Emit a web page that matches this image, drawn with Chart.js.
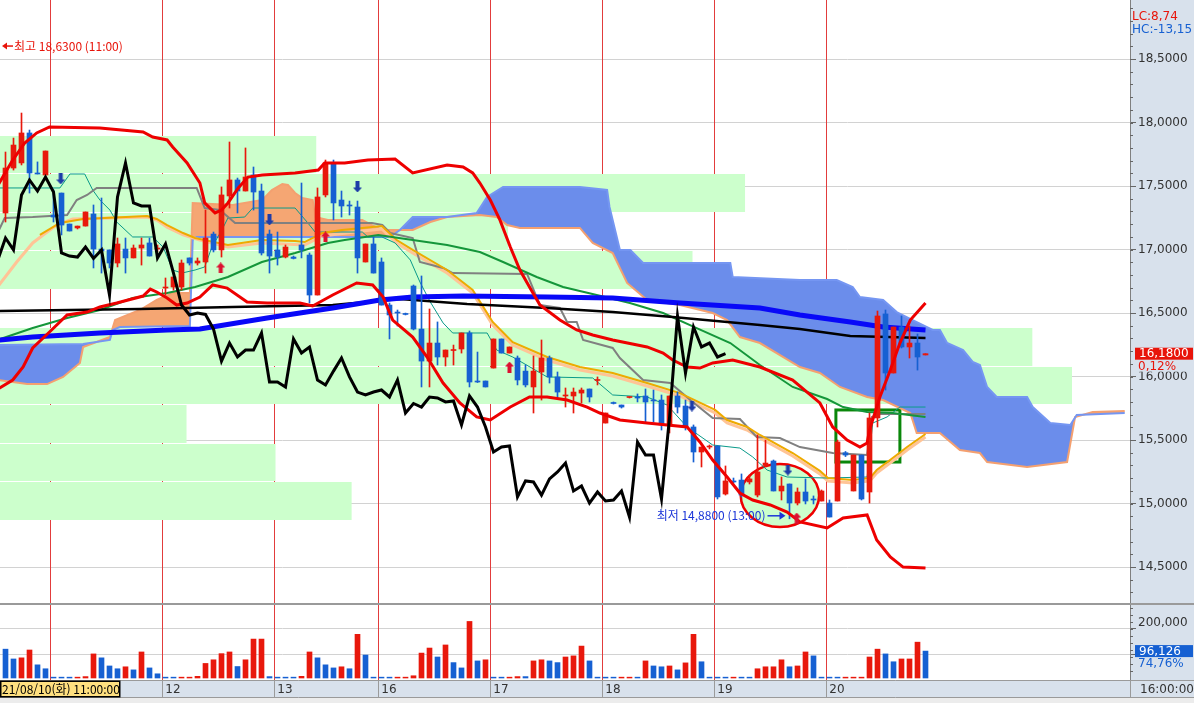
<!DOCTYPE html>
<html lang="ko">
<head>
<meta charset="UTF-8">
<title>Chart</title>
<script src="https://cdn.jsdelivr.net/npm/chart.js"></script>
<style>
  html, body { margin: 0; padding: 0; background: #ececec; }
  #wrap { width: 1194px; height: 703px; }
  canvas { display: block; }
</style>
</head>
<body>
<div id="wrap"><canvas id="myChart" width="1194" height="698"></canvas></div>
<script>
// 일자 구분선 (봉 인덱스 기준) 과 라벨
const dayStarts = [5.5, 19.5, 33.5, 46.5, 60.5, 74.5, 88.5, 102.5];
const dayLabels = ['', '12', '13', '16', '17', '18', '19', '20'];

// 봉 데이터 (시가/고가/저가/종가)
const opens = [17.288,17.642,17.682,17.918,17.603,17.587,17.272,17.445,17.201,17.170,17.185,17.280,17.004,16.997,16.894,17.004,16.934,17.012,17.052,17.004,
  16.697,16.705,16.705,16.934,16.894,16.902,17.122,16.997,17.422,17.548,17.461,17.587,17.461,17.122,16.997,16.941,16.941,17.036,16.957,16.642,
  17.430,17.682,17.390,17.351,17.335,16.902,17.044,16.902,16.563,16.508,16.493,16.713,16.374,16.122,16.264,16.154,16.205,16.217,16.343,15.965,
  15.965,16.067,16.296,16.185,16.146,16.043,15.918,16.036,16.146,15.997,15.847,15.847,15.870,15.902,15.969,15.634,15.792,15.776,15.835,15.839,
  15.847,15.815,15.815,15.619,15.847,15.768,15.603,15.406,15.445,15.453,15.075,15.178,15.185,15.170,15.067,15.300,15.335,15.099,15.154,15.004,
  15.091,15.036,15.020,15.004,15.020,15.400,15.099,15.382,15.091,15.674,16.493,16.028,16.390,16.233,16.264,16.170];
const highs = [17.768,17.878,18.075,17.941,17.690,17.776,17.469,17.445,17.201,17.185,17.296,17.351,17.406,16.997,17.091,17.091,17.036,17.091,17.091,17.036,
  16.776,16.784,16.918,16.934,16.934,17.311,17.138,17.493,17.847,17.563,17.800,17.650,17.516,17.154,17.138,17.036,16.949,17.524,16.973,17.485,
  17.705,17.705,17.461,17.382,17.382,17.044,17.099,16.934,16.579,16.524,16.500,16.721,16.792,16.532,16.430,16.209,16.248,16.343,16.359,16.193,
  15.965,16.296,16.296,16.233,16.162,16.091,16.162,16.288,16.162,16.036,15.910,15.910,15.910,15.902,15.997,15.713,15.800,15.776,15.839,15.863,
  15.902,15.894,15.855,15.847,15.878,15.815,15.619,15.445,15.461,15.453,15.296,15.201,15.233,15.225,15.540,15.500,15.343,15.209,15.154,15.123,
  15.194,15.060,15.107,15.028,15.500,15.410,15.382,15.382,15.713,16.516,16.524,16.390,16.477,16.398,16.335,16.180];
const lows = [17.217,17.626,17.666,17.445,17.595,17.587,17.217,17.115,17.146,17.162,17.185,16.855,16.815,16.855,16.863,16.815,16.934,16.878,16.949,16.981,
  16.642,16.681,16.681,16.878,16.878,16.815,16.981,16.941,17.327,17.288,17.461,17.311,16.957,16.815,16.878,16.934,16.926,16.934,16.579,16.642,
  17.414,17.233,17.256,17.272,16.815,16.902,16.815,16.563,16.296,16.398,16.485,16.367,15.918,15.918,16.091,16.083,16.091,16.185,15.918,15.953,
  15.918,16.067,16.185,16.185,15.934,15.918,15.713,15.815,15.949,15.831,15.760,15.713,15.792,15.800,15.934,15.634,15.784,15.752,15.831,15.800,
  15.634,15.642,15.579,15.556,15.713,15.579,15.327,15.288,15.430,15.036,15.067,15.162,15.052,15.154,15.052,15.290,15.099,15.028,14.880,14.989,
  14.997,14.997,15.020,14.894,15.020,15.370,15.099,15.028,15.004,15.603,15.894,16.028,16.225,16.146,16.051,16.170];
const closes = [17.642,17.823,17.918,17.603,17.595,17.776,17.256,17.193,17.146,17.185,17.296,17.004,16.989,16.894,17.044,16.934,17.012,17.036,16.949,17.012,
  16.705,16.784,16.894,16.894,16.910,17.091,16.997,17.430,17.548,17.461,17.571,17.453,16.973,16.949,16.941,17.020,16.930,16.997,16.642,17.414,
  17.682,17.367,17.343,17.343,16.934,17.044,16.815,16.563,16.485,16.500,16.489,16.374,16.122,16.264,16.154,16.209,16.209,16.343,15.957,15.957,
  15.918,16.296,16.185,16.233,15.973,15.934,16.043,16.146,15.997,15.878,15.855,15.878,15.894,15.839,15.973,15.713,15.788,15.760,15.839,15.831,
  15.800,15.808,15.619,15.847,15.760,15.603,15.406,15.445,15.453,15.052,15.178,15.170,15.067,15.194,15.249,15.319,15.099,15.138,15.004,15.091,
  15.020,15.028,15.099,14.894,15.485,15.382,15.382,15.036,15.674,16.477,16.028,16.390,16.233,16.264,16.154,16.180];

// 거래량과 막대 색 (r 상승, b 하락)
const volumes = [103000,68000,72000,100000,47000,33000,
  3000,3000,3000,3000,5000,86000,72000,43000,33000,40000,29000,93000,36000,15000,
  3000,3000,3000,3000,6000,52000,65000,87000,93000,41000,65000,139000,139000,5000,
  3000,3000,3000,6000,93000,72000,47000,36000,40000,33000,156000,82000,3000,
  3000,3000,3000,3000,8000,89000,107000,75000,118000,55000,36000,202000,61000,65000,
  3000,3000,3000,5000,5000,61000,65000,61000,55000,75000,79000,114000,61000,3000,
  3000,3000,3000,3000,3000,61000,43000,40000,43000,29000,54000,156000,58000,3000,
  3000,3000,3000,3000,3000,33000,40000,40000,65000,40000,43000,93000,79000,3000,
  3000,3000,3000,3000,3000,75000,103000,86000,58000,68000,68000,128000,96126];
const volDir = 'bbrrbb' + 'bbbrrrbbbrbrbb' + 'bbrrrrrrrbrrrb' + 'bbbrrbbbrbrbb' + 'bbrrrrrbrbbrbr' +
  'bbrrbrrbbrrrbb' + 'bbrrbrbbrbrrbb' + 'bbrbbrrrrbrrbb' + 'bbrrrrrbbrrrb';
const volLabelValue = 200000;

// 볼린저 밴드, 이동평균선 [봉 인덱스, 가격]
const bbUpper = [[-1,17.50],[0.9,17.705],[2.4,17.839],[3.9,17.918],[5.5,17.965],[11.8,17.957],[17.2,17.926],[18.4,17.886],[20.2,17.863],[20.9,17.808],
  [22.7,17.682],[24.3,17.524],[24.9,17.367],[26.2,17.288],[27,17.311],[27.8,17.367],[29.1,17.485],[30.3,17.571],[32.1,17.587],[36.2,17.603],
  [39.1,17.626],[39.9,17.682],[42.4,17.682],[45.3,17.705],[48.7,17.713],[50.9,17.603],[55.2,17.666],[57.2,17.65],[58.4,17.603],[59.3,17.524],
  [60.6,17.39],[61.8,17.233],[63.1,17.02],[64.3,16.839],[65.5,16.705],[66.8,16.563],[69.3,16.445],[71.4,16.367],[73.4,16.327],[75.9,16.288],
  [80.2,16.233],[82.2,16.185],[83.4,16.13],[85.2,16.075],[86.8,16.067],[88.4,16.107],[90.9,16.13],[94.3,16.075],[98.4,15.973],[101.8,15.792],
  [103.4,15.603],[105.2,15.5],[106.8,15.445],[107.7,15.477],[108,15.579],[109.3,15.839],[110.6,16.052],[111.8,16.264],[113.1,16.445],[115,16.579]];
const bbLower = [[-1,15.90],[0.9,15.973],[2.2,16.075],[3.4,16.225],[5.5,16.351],[7.7,16.485],[10.2,16.508],[11.8,16.548],[13.9,16.579],[17.2,16.634],
  [18.1,16.689],[18.9,16.666],[20.2,16.619],[21.4,16.563],[22.7,16.579],[24.3,16.626],[25.9,16.721],[27.7,16.697],[30.2,16.587],[32.7,16.579],
  [36.8,16.579],[38.4,16.556],[40.9,16.642],[43.9,16.737],[45.9,16.721],[47.2,16.626],[48.4,16.445],[50.9,16.311],[52.7,16.154],[54.7,15.949],
  [56.8,15.792],[58.9,15.682],[60.6,15.658],[63.1,15.76],[65.5,15.839],[67.7,15.839],[70.2,15.815],[72.7,15.76],[74.3,15.713],[76.8,15.658],
  [80.2,15.634],[85.2,15.603],[86.8,15.485],[88.4,15.343],[90.2,15.209],[91.8,15.083],[93.4,15.028],[95.6,14.989],[97.7,14.933],[99.3,14.855],
  [102.7,14.808],[104.7,14.886],[107.7,14.91],[108.9,14.713],[110.6,14.579],[112.2,14.5],[115,14.492]];
const maBlack = [[-1,16.516],[16.8,16.532],[28.4,16.548],[40.9,16.563],[49.3,16.61],[57.7,16.571],[67.7,16.54],[75.9,16.508],[83.4,16.469],
  [94.3,16.406],[99.3,16.374],[105.6,16.319],[115,16.304]];
const maBlue = [[-1,16.287],[3.4,16.311],[11.8,16.343],[20.2,16.367],[24.3,16.374],[32.7,16.461],[40.9,16.54],[46.8,16.603],[50.9,16.626],
  [57.2,16.634],[67.7,16.626],[75.9,16.619],[84.3,16.579],[94.3,16.54],[99.3,16.485],[105.6,16.43],[109.7,16.39],[115,16.367]];
const maGreen = [[-1,16.288],[3.4,16.382],[7.7,16.461],[11.8,16.524],[15.9,16.619],[20.2,16.658],[23.7,16.705],[27.8,16.784],[32.05,16.902],
  [36.2,16.973],[40.3,17.052],[42.4,17.075],[46.6,17.115],[50.9,17.075],[55.2,17.036],[59.3,16.981],[62.2,16.902],[66.4,16.784],[69.7,16.705],
  [73.9,16.642],[78.05,16.579],[82.2,16.5],[86.4,16.382],[90.6,16.264],[94.3,16.091],[98.4,15.918],[102.7,15.823],[104.7,15.76],[107.7,15.721],
  [110.9,15.713],[115,15.682]];
const maOrange = [[4.3,17.115],[6.8,17.209],[9.7,17.241],[17.7,17.264],[18.9,17.241],[20.2,17.193],[22.2,17.13],[23.7,17.091],[27.8,17.036],
  [32.05,17.075],[36.2,17.067],[37.4,17.059],[39.6,17.13],[42.05,17.154],[44.6,17.17],[47.05,17.185],[48.9,17.075],[50.9,16.997],[55.2,16.839],
  [58.4,16.682],[60.9,16.43],[63.4,16.27],[67.7,16.154],[71.8,16.075],[75.9,16.028],[80.2,15.949],[84.3,15.87],[88.7,15.737],[90.2,15.658],
  [92.7,15.603],[94.3,15.54],[98.4,15.398],[101.8,15.257],[102.8,15.201],[105.9,15.185],[108.05,15.201],[108.9,15.264],[110.9,15.359],
  [112.7,15.445],[115,15.548]];
const maPeach = [[-1,16.705],[1.4,16.902],[3.4,17.052],[4.7,17.115],[6.4,17.193],[8.4,17.241],[13.05,17.248],[17.7,17.256],[18.9,17.233],
  [20.2,17.177],[22.2,17.115],[24.3,17.075],[27.8,17.02],[32.05,17.052],[37.4,17.036],[39.6,17.107],[44.6,17.146],[47.05,17.162],[48.9,17.052],
  [50.9,16.973],[55.2,16.815],[58.4,16.658],[60.9,16.406],[63.4,16.248],[67.7,16.13],[71.8,16.052],[75.9,16.004],[80.2,15.926],[84.3,15.847],
  [88.7,15.713],[90.2,15.634],[92.7,15.579],[94.3,15.516],[98.4,15.374],[101.8,15.233],[102.8,15.178],[105.9,15.162],[108.05,15.178],
  [108.9,15.241],[110.9,15.335],[112.7,15.422],[115,15.524]];

// 일목균형표: 기준선, 전환선, 선행스팬 A/B, 후행 이동 봉 수
const kijun = [[-1,17.13],[-0.1,17.248],[3.4,17.256],[7.7,17.272],[8.9,17.39],[10.2,17.43],[11.4,17.485],[23.9,17.485],[24.9,17.327],[26.8,17.311],
  [28.7,17.209],[45.8,17.209],[47.1,17.193],[48.1,17.13],[50.9,17.091],[51.8,16.902],[54.7,16.855],[55.9,16.815],[65.2,16.808],[66.8,16.563],
  [69.3,16.54],[70.2,16.43],[71.4,16.43],[72.2,16.288],[75.9,16.225],[76.8,16.146],[79.7,15.973],[83.1,15.949],[85.9,15.8],[88.4,15.674],
  [91.8,15.666],[93.9,15.524],[96.8,15.516],[99.3,15.445],[103.4,15.398],[107.7,15.382],[108.3,15.682],[109.3,15.705],[115,15.705]];
const tenkan = [[-1,17.485],[6.8,17.485],[8.05,17.595],[9.9,17.595],[10.9,17.469],[11.8,17.39],[13.05,17.311],[13.9,17.217],[15.9,17.099],
  [18.4,17.099],[19.7,17.02],[20.9,16.839],[22.05,16.815],[23.7,16.839],[24.9,16.863],[25.8,17.02],[27.05,17.154],[27.8,17.248],[29.9,17.256],
  [30.9,17.327],[36.2,17.327],[37.8,17.209],[38.7,17.138],[44.6,17.138],[45.3,17.099],[47.05,17.099],[48.7,17.052],[50.6,16.918],[51.8,16.745],
  [53.1,16.587],[54.7,16.422],[55.9,16.343],[60.2,16.343],[61.4,16.209],[63.4,16.154],[67.7,15.997],[73.4,15.989],[75.9,15.855],[80.2,15.839],
  [82.7,15.776],[85.2,15.603],[88.4,15.461],[91.8,15.437],[93.4,15.367],[95.2,15.264],[97.7,15.209],[102.7,15.201],[107.7,15.209],[108.4,15.634],
  [110.2,15.682],[111.8,15.76],[115,15.76]];
const spanA = [[-1,15.973],[2.7,15.941],[5.2,15.941],[7.2,15.997],[9.3,16.107],[9.7,16.233],[13.05,16.311],[13.7,16.445],[16.8,16.524],[18.9,16.603],
  [20.9,16.658],[23.05,16.658],[23.4,17.367],[28.4,17.351],[32.1,17.39],[33.3,17.469],[34.6,17.516],[35.3,17.508],[36.2,17.445],[37.1,17.406],
  [38.4,17.39],[38.7,17.256],[40.3,17.233],[44.6,17.233],[45.8,17.193],[47.1,17.154],[50.9,17.154],[53.1,17.217],[55.2,17.256],[59.3,17.272],
  [61.4,17.256],[62.7,17.193],[64.3,17.17],[71.8,17.17],[73.4,17.052],[75.9,16.973],[77.7,16.737],[80.2,16.603],[84.3,16.563],[88.4,16.5],
  [90.2,16.445],[91.8,16.311],[94.3,16.264],[99.3,16.075],[101.8,16.028],[104.3,15.918],[107.7,15.839],[109.7,15.815],[113.1,15.713],[113.9,15.556],
  [116.8,15.556],[119.3,15.422],[121.8,15.398],[122.7,15.327],[127.7,15.288],[132.7,15.327],[133.7,15.682],[135.9,15.721],[139.9,15.729]];
const spanB = [[-1,16.248],[9.7,16.256],[13.05,16.288],[13.4,16.367],[14.3,16.39],[23.05,16.398],[23.4,17.075],[23.9,17.099],[48.05,17.099],
  [49.3,17.154],[50.9,17.256],[55.2,17.256],[58.9,17.288],[60.2,17.414],[62.2,17.493],[71.8,17.493],[75.2,17.469],[75.5,17.335],[76.8,16.997],
  [78.1,16.997],[79.7,16.894],[90.6,16.894],[90.9,16.784],[99.3,16.76],[103.9,16.76],[105.9,16.705],[106.8,16.626],[109.7,16.603],[111.4,16.508],
  [113.4,16.445],[115.9,16.367],[116.8,16.367],[117.7,16.264],[119.7,16.209],[120.9,16.115],[121.8,16.091],[122.7,15.918],[123.9,15.839],
  [127.7,15.839],[128.4,15.76],[130.6,15.634],[133.1,15.619],[133.9,15.697],[139.9,15.713]];
const chikouShift = 25;

// 가격대별 거래량 (아래 구간부터, 최대 대비 %)
const profileLow = 14.874;
const profileStep = 0.303;
const profilePct = [32.8, 25.7, 17.4, 100, 96.3, 0, 64.6, 47.4, 69.5, 29.5];

// 매매 신호 [봉 인덱스, 가격]
const sigDown = [[6.9,17.556],[33,17.233],[44,17.493],[85.8,15.768],[97.8,15.264]];
const sigUp = [[26.9,16.855],[40,17.099],[63,16.075],[98.9,14.886]];

// 작도: 타원 [중심 인덱스, 중심 가격, 반경(봉), 반경(가격)], 박스 [인덱스1, 인덱스2, 고가, 저가]
const ellipseMark = [96.8, 15.063, 4.9, 0.248];
const boxMark = [103.8, 111.8, 15.737, 15.327];

// 최고/최저 표시와 우측 정보
const hiMark = { price: 18.63, time: '11:00' };
const loMark = { index: 98, price: 14.88, time: '13:00' };
const lastChange = '0,12%';
const volRatio = '74,76%';
const lcText = 'LC:8,74';
const hcText = 'HC:-13,15';
const startStamp = '21/08/10(화) 11:00:00';
const endStamp = '16:00:00';

const RED = '#e8180c';
const BLUE = '#1660d2';
const AXIS_BG = '#d8e1ec';
const DAY_LINE = '#e23c3c';
const fmt4 = v => v.toFixed(4).replace('.', ',');
const pts = arr => arr.map(([x, y]) => ({ x, y }));
const idx = closes.map((_, i) => i);
const candleColors = idx.map(i => (closes[i] >= opens[i] ? RED : BLUE));

function arrowImage(color, down) {
  const c = document.createElement('canvas');
  c.width = 9; c.height = 11;
  const g = c.getContext('2d');
  g.fillStyle = color;
  g.beginPath();
  if (down) {
    g.moveTo(2.5, 0); g.lineTo(6.5, 0); g.lineTo(6.5, 6); g.lineTo(9, 6); g.lineTo(4.5, 11); g.lineTo(0, 6); g.lineTo(2.5, 6);
  } else {
    g.moveTo(4.5, 0); g.lineTo(9, 5); g.lineTo(6.5, 5); g.lineTo(6.5, 11); g.lineTo(2.5, 11); g.lineTo(2.5, 5); g.lineTo(0, 5);
  }
  g.closePath();
  g.fill();
  return c;
}

function line(data, color, width, order, extra) {
  return Object.assign({
    type: 'line', data: pts(data), borderColor: color, borderWidth: width,
    pointRadius: 0, tension: 0, fill: false, order: order, yAxisID: 'y'
  }, extra || {});
}

// 축 여백 없애기 (패널을 캔버스 끝까지)
function noPad(s) {
  s.paddingTop = 0; s.paddingBottom = 0; s.paddingLeft = 0; s.paddingRight = 0;
}

// 배경, 일자선, 가격대 거래량, 작도
const decor = {
  id: 'decor',
  beforeDraw(chart) {
    const { ctx, chartArea: a } = chart;
    ctx.save();
    ctx.fillStyle = AXIS_BG;
    ctx.fillRect(0, 0, chart.width, chart.height);
    ctx.fillStyle = '#ffffff';
    ctx.fillRect(a.left, a.top, a.right - a.left, a.bottom - a.top);
    ctx.restore();
  },
  beforeDatasetsDraw(chart) {
    const { ctx, chartArea: a, scales: { x, y } } = chart;
    ctx.save();
    // 일자 구분선
    ctx.strokeStyle = DAY_LINE;
    ctx.lineWidth = 1;
    ctx.beginPath();
    dayStarts.forEach(v => {
      const px = Math.round(x.getPixelForValue(v)) + 0.5;
      ctx.moveTo(px, a.top); ctx.lineTo(px, a.bottom);
    });
    ctx.stroke();
    // 가격대별 거래량
    ctx.fillStyle = '#ccffcc';
    const left = x.getPixelForValue(x.min);
    profilePct.forEach((p, k) => {
      if (!p) return;
      const top = Math.round(y.getPixelForValue(profileLow + (k + 1) * profileStep));
      const bot = Math.round(y.getPixelForValue(profileLow + k * profileStep));
      const right = x.getPixelForValue(x.min + p / 100 * 134);
      ctx.fillRect(left, top + 1, right - left, bot - top - 1);
    });
    // 타원
    const [ei, ep, er, eh] = ellipseMark;
    const cx = x.getPixelForValue(ei), cy = y.getPixelForValue(ep);
    const rx = x.getPixelForValue(ei + er) - cx, ry = y.getPixelForValue(ep - eh) - cy;
    ctx.beginPath();
    ctx.ellipse(cx, cy, rx, ry, 0, 0, Math.PI * 2);
    ctx.fillStyle = '#ccffcc';
    ctx.fill();
    ctx.lineWidth = 2.5;
    ctx.strokeStyle = '#ee0000';
    ctx.stroke();
    // 박스
    const [b0, b1, bh, bl] = boxMark;
    const bx0 = x.getPixelForValue(b0), bx1 = x.getPixelForValue(b1);
    const by0 = y.getPixelForValue(bh), by1 = y.getPixelForValue(bl);
    ctx.lineWidth = 3;
    ctx.strokeStyle = '#0a870a';
    ctx.strokeRect(bx0, by0, bx1 - bx0, by1 - by0);
    ctx.restore();
  },
  afterDatasetsDraw(chart) {
    const { ctx, scales: { x, y, yv } } = chart;
    ctx.save();
    // 패널 구분선
    ctx.strokeStyle = '#9a9a9a';
    ctx.lineWidth = 2;
    ctx.beginPath(); ctx.moveTo(0, yv.top + 1); ctx.lineTo(chart.width, yv.top + 1); ctx.stroke();
    ctx.lineWidth = 1;
    ctx.beginPath();
    ctx.moveTo(0, x.top + 0.5); ctx.lineTo(chart.width, x.top + 0.5);
    ctx.moveTo(0, x.bottom - 0.5); ctx.lineTo(chart.width, x.bottom - 0.5);
    dayStarts.concat([x.max]).forEach(v => {
      const px = Math.round(x.getPixelForValue(v)) + 0.5;
      ctx.moveTo(px, x.top); ctx.lineTo(px, x.bottom);
    });
    ctx.stroke();

    // 보조 눈금
    ctx.strokeStyle = '#666';
    ctx.beginPath();
    for (let k = 143; k <= 189; k++) {
      const py = Math.round(y.getPixelForValue(k / 10)) + 0.5;
      ctx.moveTo(y.left, py); ctx.lineTo(y.left + 3, py);
    }
    for (let k = 1; k <= 10; k++) {
      const py = Math.round(yv.getPixelForValue(k * 25000)) + 0.5;
      if (py < yv.top + 2) continue;
      ctx.moveTo(yv.left, py); ctx.lineTo(yv.left + 3, py);
    }
    ctx.stroke();

    ctx.textBaseline = 'middle';
    ctx.font = '12px "DejaVu Sans", "Noto Sans CJK KR", sans-serif';
    // 거래량 축 라벨
    ctx.fillStyle = '#333';
    ctx.fillText(volLabelValue.toLocaleString('en-US'), yv.left + 8, yv.getPixelForValue(volLabelValue) + 0.5);
    // 현재가
    const lastClose = closes[closes.length - 1];
    const py = y.getPixelForValue(lastClose);
    ctx.fillStyle = '#e8140a';
    ctx.fillRect(y.left + 5, py - 6, 58, 12);
    ctx.fillStyle = '#ffffff';
    ctx.fillText(fmt4(lastClose), y.left + 9, py + 0.5);
    ctx.fillStyle = AXIS_BG;
    ctx.fillRect(y.left + 5, py + 7, 58, 11);
    ctx.fillStyle = '#e8140a';
    ctx.fillText(lastChange, y.left + 8, py + 13);
    // 현재 거래량
    const lastVol = volumes[volumes.length - 1];
    const pv = yv.getPixelForValue(lastVol);
    ctx.fillStyle = BLUE;
    ctx.fillRect(yv.left + 5, pv - 6, 58, 12);
    ctx.fillStyle = '#ffffff';
    ctx.fillText(lastVol.toLocaleString('en-US'), yv.left + 9, pv + 0.5);
    ctx.fillStyle = AXIS_BG;
    ctx.fillRect(yv.left + 5, pv + 7, 58, 11);
    ctx.fillStyle = BLUE;
    ctx.fillText(volRatio, yv.left + 8, pv + 13);
    // LC / HC
    ctx.fillStyle = '#e8140a';
    ctx.fillText(lcText, y.left + 2, y.top + 17);
    ctx.fillStyle = BLUE;
    ctx.fillText(hcText, y.left + 2, y.top + 30);
    // 끝 시간
    ctx.fillStyle = '#333';
    ctx.fillText(endStamp, y.left + 10, (x.top + x.bottom) / 2 + 1);

    // 시작 일시 박스
    ctx.font = '12px "Noto Sans CJK KR", sans-serif';
    ctx.fillStyle = '#ffe080';
    ctx.fillRect(x.left, x.top + 1, 120, x.bottom - x.top - 2);
    ctx.strokeStyle = '#000';
    ctx.lineWidth = 1.5;
    ctx.strokeRect(x.left + 0.75, x.top + 1.25, 119, x.bottom - x.top - 2.5);
    ctx.fillStyle = '#000';
    ctx.fillText(startStamp, x.left + 2, (x.top + x.bottom) / 2 + 0.5);

    // 최고 표시
    const hy = y.getPixelForValue(hiMark.price) + 3.5;
    ctx.strokeStyle = '#e8140a';
    ctx.fillStyle = '#e8140a';
    ctx.lineWidth = 1.5;
    ctx.beginPath(); ctx.moveTo(x.left + 13, hy); ctx.lineTo(x.left + 4, hy); ctx.stroke();
    ctx.beginPath(); ctx.moveTo(x.left + 2, hy); ctx.lineTo(x.left + 7, hy - 3.5); ctx.lineTo(x.left + 7, hy + 3.5); ctx.closePath(); ctx.fill();
    ctx.fillText('최고 ' + fmt4(hiMark.price) + ' (' + hiMark.time + ')', x.left + 14, hy);

    // 최저 표시
    const lx = x.getPixelForValue(loMark.index);
    const ly = y.getPixelForValue(loMark.price) - 3;
    ctx.fillStyle = '#1c36d8';
    ctx.strokeStyle = '#1c36d8';
    ctx.textAlign = 'right';
    ctx.fillText('최저 ' + fmt4(loMark.price) + ' (' + loMark.time + ')', lx - 24, ly);
    ctx.beginPath(); ctx.moveTo(lx - 22, ly); ctx.lineTo(lx - 9, ly); ctx.stroke();
    ctx.beginPath(); ctx.moveTo(lx - 4, ly); ctx.lineTo(lx - 10, ly - 4); ctx.lineTo(lx - 10, ly + 4); ctx.closePath(); ctx.fill();
    ctx.restore();
  }
};

Chart.defaults.font.family = '"DejaVu Sans", "Noto Sans CJK KR", sans-serif';
Chart.defaults.font.size = 12;

const xMin = -0.6875;
const xMax = xMin + 1130 / 8;

const data = {
  datasets: [
    { type: 'scatter', data: pts(sigDown), pointStyle: arrowImage('#1d3ca8', true), pointRadius: 5, order: 0, yAxisID: 'y' },
    { type: 'scatter', data: pts(sigUp), pointStyle: arrowImage('#dc1030', false), pointRadius: 5, order: 0, yAxisID: 'y' },
    line(idx.filter(j => j >= chikouShift - 1).map(j => [j - chikouShift, closes[j]]), '#000000', 3, 1),
    line(bbUpper, '#ee0000', 3, 2),
    line(bbLower, '#ee0000', 3, 2),
    { type: 'bar', data: idx.map(i => ({ x: i, y: [opens[i], closes[i]] })), backgroundColor: candleColors,
      barThickness: 5, grouped: false, minBarLength: 1, borderWidth: 0, order: 3, yAxisID: 'y' },
    { type: 'bar', data: idx.map(i => ({ x: i, y: [lows[i], highs[i]] })), backgroundColor: candleColors,
      barThickness: 1, grouped: false, minBarLength: 1, borderWidth: 0, order: 4, yAxisID: 'y' },
    { type: 'bar', data: idx.map(i => ({ x: i, y: volumes[i] })), backgroundColor: idx.map(i => (volDir[i] === 'r' ? RED : BLUE)),
      barThickness: 5, grouped: false, borderWidth: 0, order: 3, yAxisID: 'yv' },
    line(maBlue, '#0808f8', 5, 5),
    line(maBlack, '#000000', 2.5, 6),
    line(maGreen, '#14963a', 2, 7),
    line(maOrange, '#eeaa00', 2, 7),
    line(maPeach, '#ffc496', 3, 8),
    line(kijun, '#808080', 2, 7),
    line(tenkan, '#0a9a8a', 1, 7),
    line(spanA, '#f4a070', 2, 10, { fill: { target: '+1', above: '#f5a673', below: '#6b8deb' } }),
    line(spanB, '#7596f2', 2, 9)
  ]
};

const config = {
  data: data,
  options: {
    responsive: false,
    animation: false,
    events: [],
    layout: { padding: 0, autoPadding: false },
    plugins: { legend: { display: false }, tooltip: { enabled: false } },
    scales: {
      x: {
        type: 'linear', position: 'bottom', min: xMin, max: xMax, offset: false,
        afterBuildTicks: s => { s.ticks = dayStarts.map(v => ({ value: v })); },
        afterFit: s => { s.height = 18; noPad(s); },
        grid: { display: false, drawTicks: false, tickLength: 0 },
        border: { display: false },
        ticks: { align: 'start', padding: 3, color: '#333', autoSkip: false, maxRotation: 0,
          callback: (v, k) => ' ' + dayLabels[k] }
      },
      y: {
        type: 'linear', position: 'right', stack: 'panes', stackWeight: 603, min: 14.217, max: 18.965,
        afterFit: s => { s.width = 64; noPad(s); },
        grid: { color: '#d2d2d2', tickColor: '#666', tickLength: 6 },
        border: { color: '#808080' },
        ticks: { stepSize: 0.5, includeBounds: false, autoSkip: false, padding: 2, color: '#333', callback: v => fmt4(v) }
      },
      yv: {
        type: 'linear', position: 'right', stack: 'panes', stackWeight: 77, min: -7143, max: 267857,
        afterFit: s => { s.width = 64; noPad(s); },
        grid: { color: '#d2d2d2', tickColor: '#666', tickLength: 6 },
        border: { color: '#808080' },
        ticks: { stepSize: 100000, includeBounds: false, autoSkip: false, padding: 2, color: '#333', callback: () => '' }
      }
    }
  },
  plugins: [decor]
};

const myChart = new Chart(document.getElementById('myChart'), config);
</script>
</body>
</html>
